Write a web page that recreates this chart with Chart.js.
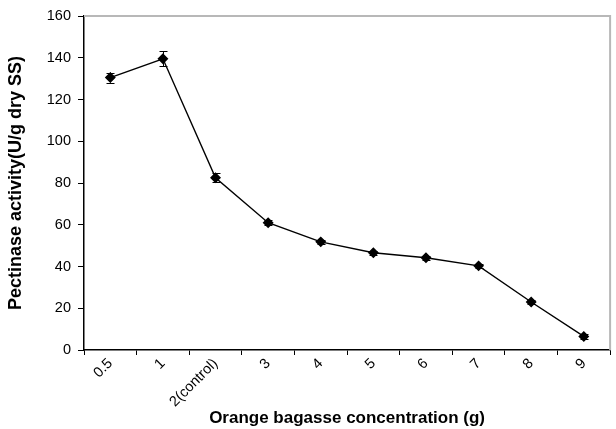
<!DOCTYPE html>
<html>
<head>
<meta charset="utf-8">
<script src="https://cdn.jsdelivr.net/npm/chart.js@4.4.0/dist/chart.umd.min.js"></script>
<style>
html,body{margin:0;padding:0;background:#fff;}
#wrap{width:616px;height:429px;position:relative;}
</style>
</head>
<body>
<div id="wrap"><canvas id="c" width="616" height="429"></canvas></div>
<script>
const categories = ["0.5", "1", "2(control)", "3", "4", "5", "6", "7", "8", "9"];
const activity = [130.5, 139.5, 82.5, 61, 51.8, 46.6, 44.2, 40.3, 23, 6.5];
const errors = [2.4, 3.6, 2.2, 1.2, 1.0, 1.0, 1.0, 1.0, 1.0, 1.0];
const yTicks = [0, 20, 40, 60, 80, 100, 120, 140, 160];

const FONT = "'Liberation Sans', Arial, sans-serif";

const errorBarPlugin = {
  id: 'errorBars',
  afterDatasetsDraw(chart) {
    const ctx = chart.ctx;
    const meta = chart.getDatasetMeta(0);
    const y = chart.scales.y;
    ctx.save();
    ctx.strokeStyle = '#000';
    ctx.lineWidth = 1;
    meta.data.forEach((pt, i) => {
      const v = activity[i], e = errors[i];
      const yt = y.getPixelForValue(v + e);
      const yb = y.getPixelForValue(v - e);
      const x = Math.round(pt.x) + 0.5;
      ctx.beginPath();
      ctx.moveTo(x, yt); ctx.lineTo(x, yb);
      ctx.moveTo(x - 4, Math.round(yt) + 0.5); ctx.lineTo(x + 4, Math.round(yt) + 0.5);
      ctx.moveTo(x - 4, Math.round(yb) + 0.5); ctx.lineTo(x + 4, Math.round(yb) + 0.5);
      ctx.stroke();
    });
    ctx.restore();
  }
};

const frameBorderPlugin = {
  id: 'frameBorder',
  beforeDatasetsDraw(chart) {
    const a = chart.chartArea;
    const ctx = chart.ctx;
    ctx.save();
    ctx.strokeStyle = '#b8b8b8';
    ctx.lineWidth = 2;
    ctx.beginPath();
    ctx.moveTo(a.left, a.top);
    ctx.lineTo(a.right, a.top);
    ctx.lineTo(a.right, a.bottom);
    ctx.stroke();
    ctx.restore();
  }
};

new Chart(document.getElementById('c'), {
  type: 'line',
  data: {
    labels: categories,
    datasets: [{
      data: activity,
      borderColor: '#000',
      borderWidth: 1.4,
      backgroundColor: '#000',
      pointStyle: 'rectRot',
      pointRadius: 4.5,
      pointBackgroundColor: '#000',
      pointBorderColor: '#000',
      tension: 0,
      fill: false
    }]
  },
  options: {
    responsive: false,
    animation: false,
    devicePixelRatio: 1,
    layout: { padding: { top: 16, right: 5, left: 0, bottom: 0 } },
    plugins: {
      legend: { display: false },
      tooltip: { enabled: false }
    },
    scales: {
      x: {
        type: 'category',
        offset: true,
        grid: {
          display: true, drawOnChartArea: false, drawTicks: true,
          tickLength: 5, offset: true, color: '#000', lineWidth: 1
        },
        border: { display: true, color: '#000', width: 1.5 },
        ticks: {
          color: '#000', font: { family: FONT, size: 14.5 },
          minRotation: 45, maxRotation: 45, autoSkip: false, padding: 0
        },
        title: {
          display: true, text: 'Orange bagasse concentration (g)',
          color: '#000', font: { family: FONT, size: 17, weight: 'bold' },
          padding: { top: 0, bottom: 0 }
        },
        afterFit(s) { s.height = 79; }
      },
      y: {
        min: 0, max: 160,
        afterBuildTicks(s) { s.ticks = yTicks.map(v => ({ value: v })); },
        grid: {
          display: true, drawOnChartArea: false, drawTicks: true,
          tickLength: 6, color: '#000', lineWidth: 1
        },
        border: { display: true, color: '#000', width: 1.5 },
        ticks: { color: '#000', font: { family: FONT, size: 14.5 }, padding: 7 },
        title: {
          display: true, text: 'Pectinase activity(U/g dry SS)',
          color: '#000', font: { family: FONT, size: 18, weight: 'bold' },
          padding: { top: 5, bottom: 0 }
        },
        afterFit(s) { s.width = 84; }
      }
    }
  },
  plugins: [frameBorderPlugin, errorBarPlugin]
});
</script>
</body>
</html>
